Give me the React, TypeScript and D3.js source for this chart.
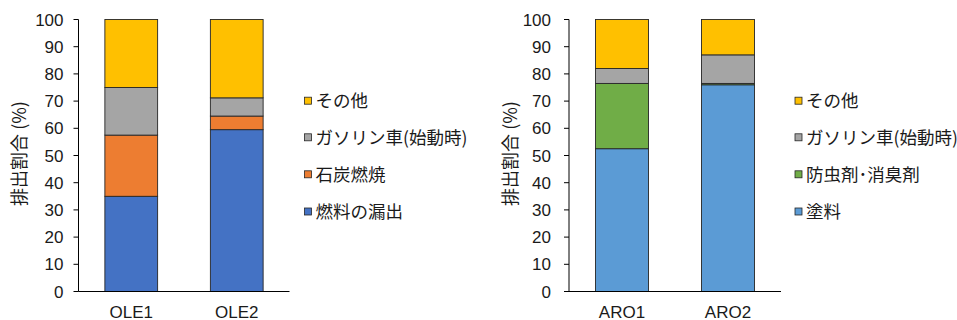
import React from "react";
import * as d3 from "d3";

const oleCategories = ["OLE1", "OLE2"];
const oleKeys = ["燃料の漏出", "石炭燃焼", "ガソリン車(始動時)", "その他"];
const oleFuelLeak = [35, 59.5];
const oleCoal = [22.5, 5];
const oleGasoline = [17.5, 6.7];
const oleOther = [25, 28.8];
const oleColors = ["#4472C4", "#ED7D31", "#A5A5A5", "#FFC000"];

const aroCategories = ["ARO1", "ARO2"];
const aroKeys = ["塗料", "防虫剤･消臭剤", "ガソリン車(始動時)", "その他"];
const aroPaint = [52.5, 76];
const aroInsect = [24, 0.5];
const aroGasoline = [5.5, 10.5];
const aroOther = [18, 13];
const aroColors = ["#5B9BD5", "#70AD47", "#A5A5A5", "#FFC000"];

const yTicks = [0, 10, 20, 30, 40, 50, 60, 70, 80, 90, 100];
const yTitle = "排出割合 (%)";

const W = 957;
const H = 320;
const TOP = 19.5;
const BOTTOM = 291.5;
const FONT = "Arial, 'Liberation Sans', 'Noto Sans CJK JP', sans-serif";
const JFONT = "'Noto Sans CJK JP', sans-serif";

type PanelProps = {
  categories: string[];
  keys: string[];
  values: number[][];
  colors: string[];
  axisX: number;
  axisW: number;
  titleX: number;
  labelGap: number;
  legendX: number;
};

function Panel({ categories, keys, values, colors, axisX, axisW, titleX, labelGap, legendX }: PanelProps) {
  const rows = categories.map((c, i) => {
    const r: any = { cat: c };
    keys.forEach((k, j) => (r[k] = values[j][i]));
    return r;
  });
  const stacked = d3.stack<any>().keys(keys)(rows);
  const x = d3.scaleBand().domain(categories).range([axisX, axisX + axisW]).paddingInner(0.5).paddingOuter(0.25);
  const y = d3.scaleLinear().domain([0, 100]).range([BOTTOM, TOP]);
  const legendRows = [...keys].reverse();
  const legendColors = [...colors].reverse();
  const legendY = [100.7, 137.3, 174.3, 211.5];
  return (
    <g>
      {stacked.map((s, si) => (
        <g key={s.key}>
          {s.map((d, di) => (
            <rect
              key={di}
              x={x(categories[di])}
              width={x.bandwidth()}
              y={y(d[1])}
              height={Math.max(0, y(d[0]) - y(d[1]))}
              fill={colors[si]}
              stroke="#262626"
              strokeWidth={0.9}
            />
          ))}
        </g>
      ))}
      <line x1={axisX} x2={axisX} y1={TOP} y2={BOTTOM} stroke="#000" strokeWidth={1} />
      <line x1={axisX} x2={axisX + axisW} y1={BOTTOM} y2={BOTTOM} stroke="#000" strokeWidth={1} />
      {yTicks.map((t) => (
        <g key={t}>
          <line x1={axisX - 5} x2={axisX} y1={y(t)} y2={y(t)} stroke="#000" strokeWidth={1} />
          <text
            x={axisX - labelGap}
            y={y(t)}
            dy="0.36em"
            textAnchor="end"
            fontFamily={FONT}
            fontSize={17}
            fill="#1a1a1a"
          >
            {t}
          </text>
        </g>
      ))}
      {categories.map((c) => (
        <text
          key={c}
          x={(x(c) as number) + x.bandwidth() / 2}
          y={317.5}
          textAnchor="middle"
          fontFamily={FONT}
          fontSize={17}
          fill="#1a1a1a"
        >
          {c}
        </text>
      ))}
      <text
        transform={`translate(${titleX},${(TOP + BOTTOM) / 2 - 2}) rotate(-90)`}
        textAnchor="middle"
        dy="0.36em"
        fontFamily={JFONT}
        fontSize={18}
        fill="#1a1a1a"
      >
        {yTitle}
      </text>
      {legendRows.map((k, i) => (
        <g key={k}>
          <rect
            x={legendX}
            y={legendY[i] - 3.5}
            width={7}
            height={7}
            fill={legendColors[i]}
            stroke="#262626"
            strokeWidth={0.8}
          />
          <text
            x={legendX + 11}
            y={legendY[i]}
            dy="0.36em"
            fontFamily={JFONT}
            fontSize={17.5}
            fill="#1a1a1a"
          >
            {k}
          </text>
        </g>
      ))}
    </g>
  );
}

export default function App() {
  return (
    <svg
      width={W}
      height={H}
      style={{ position: "absolute", left: 0, top: 0, background: "#fff" }}
    >
      <rect width={W} height={H} fill="#fff" />
      <Panel
        categories={oleCategories}
        keys={oleKeys}
        values={[oleFuelLeak, oleCoal, oleGasoline, oleOther]}
        colors={oleColors}
        axisX={78.5}
        axisW={211}
        titleX={20}
        labelGap={15}
        legendX={304.5}
      />
      <Panel
        categories={aroCategories}
        keys={aroKeys}
        values={[aroPaint, aroInsect, aroGasoline, aroOther]}
        colors={aroColors}
        axisX={569}
        axisW={212}
        titleX={511}
        labelGap={18}
        legendX={795}
      />
    </svg>
  );
}
